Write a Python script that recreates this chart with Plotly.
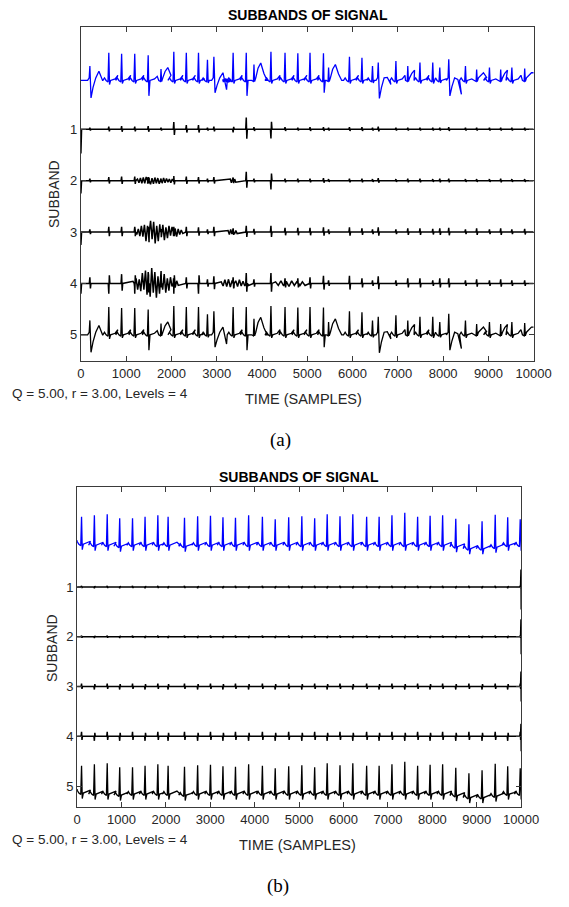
import numpy as np
import plotly.graph_objects as go

W, H = 569, 907

# ---------------- Panel (a) data ----------------
A_BEAT_POS = [198, 616, 899, 1189, 1486, 1769, 2052, 2328, 2597, 2795, 2937, 3362, 3652, 3822,
              4197, 4508, 4791, 5060, 5357, 5470, 5931, 6207, 6440, 6567, 6957, 7219, 7488,
              7771, 7926, 8124, 8493, 8740, 9023, 9271, 9518, 9801]
A_BEAT_R = [0.28, 0.54, 0.52, 0.52, 0.49, 0.22, 0.56, 0.54, 0.54, 0.40, 0.46, 0.54, 0.54, 0.31,
            0.56, 0.54, 0.53, 0.54, 0.53, 0.25, 0.46, 0.44, 0.28, 0.35, 0.38, 0.28, 0.35,
            0.35, 0.25, 0.41, 0.28, 0.21, 0.25, 0.21, 0.25, 0.23]
A_BEAT_S = [0.34, 0.08, 0.06, 0.06, 0.30, 0.04, 0.06, 0.06, 0.06, 0.05, 0.24, 0.06, 0.30, 0.04,
            0.06, 0.06, 0.06, 0.06, 0.24, 0.04, 0.06, 0.06, 0.05, 0.35, 0.06, 0.04, 0.06,
            0.06, 0.05, 0.30, 0.06, 0.04, 0.06, 0.04, 0.06, 0.04]
A_BEAT_T = [0.18, 0.10, 0.10, 0.10, 0.08, 0.25, 0.10, 0.10, 0.10, 0.05, 0.15, 0.10, 0.08, 0.34,
            0.10, 0.10, 0.10, 0.10, 0.08, 0.31, 0.10, 0.10, 0.06, 0.06, 0.10, 0.20, 0.10,
            0.10, 0.06, 0.02, 0.10, 0.15, 0.10, 0.20, 0.10, 0.15]
A_BEAT_KIND = ['V', 'N', 'N', 'N', 'N', 'H', 'N', 'N', 'N', 'N', 'V', 'N', 'N', 'H',
               'N', 'N', 'N', 'N', 'N', 'H', 'N', 'N', 'N', 'V', 'N', 'H', 'N',
               'N', 'N', 'V', 'N', 'H', 'N', 'H', 'N', 'H']
A_BEAT_TAIL = [0, 0, 0, 0, 0, 0, 0, 0, 0, 0, -0.18, 0, 0, 0,
               0, 0, 0, 0, 0, 0, 0, 0, 0, -0.08, 0, 0, 0,
               0, 0, -0.27, 0, 0, 0, 0, 0, 0]
A_SIG_BURST_X = [3130, 3320]
A_SIG_BURST = [0.02, -0.03, 0.03, -0.02, 0.04, -0.03, 0.03, -0.04, 0.02, -0.03, 0.03, -0.02]

A_SB1_AMP = [0.03, 0.05, 0.06, 0.05, 0.06, 0.03, 0.14, 0.08, 0.08, 0.03, 0.05, -0.06, 0.23, 0.04,
             -0.18, 0.04, 0.03, 0.04, 0.04, 0.03, 0.04, 0.04, 0.03, 0.05, 0.03, 0.03, 0.03,
             0.03, 0.03, 0.04, 0.03, 0.03, 0.03, 0.03, 0.03, 0.03]
A_SB2_AMP = [0.04, 0.07, 0.08, 0.08, 0.07, 0.04, 0.09, 0.08, 0.07, 0.04, 0.07, 0.06, 0.17, 0.04,
             -0.17, 0.04, 0.04, 0.04, 0.05, 0.03, 0.04, 0.04, 0.03, 0.05, 0.03, 0.04, 0.04,
             0.03, 0.04, 0.04, 0.03, 0.03, 0.03, 0.04, 0.03, 0.03]
A_SB3_AMP = [0.05, 0.10, 0.10, 0.10, 0.10, 0.06, 0.10, 0.10, 0.09, 0.05, 0.10, 0.07, 0.12, 0.06,
             0.12, 0.08, 0.08, 0.08, 0.09, 0.05, 0.09, 0.07, 0.05, 0.09, 0.05, 0.07, 0.07,
             0.06, 0.07, 0.08, 0.05, 0.07, 0.05, 0.07, 0.05, 0.06]
A_SB4_AMP = [0.12, -0.20, 0.18, -0.20, 0.22, 0.10, -0.20, 0.12, -0.20, 0.08, 0.14, 0.12, 0.20, 0.08,
             0.20, 0.10, 0.10, 0.12, 0.15, 0.06, 0.15, 0.10, 0.06, 0.14, 0.06, 0.10, 0.10,
             0.06, 0.10, 0.10, 0.06, 0.08, 0.06, 0.08, 0.06, 0.06]
A_SB_EDGE = [-0.47, -0.25, -0.25, -0.20]

A_SB2_BURST_X = [1250, 2050]
A_SB2_BURST = [0.03, -0.04, 0.05, -0.05, 0.06, -0.05, 0.07, -0.06, 0.06, -0.07, 0.05, -0.06,
               0.06, -0.05, 0.05, -0.06, 0.04, -0.05, 0.05, -0.04, 0.04, -0.03, 0.03, -0.04,
               0.03, -0.02]
A_SB2_BURST2_X = [3300, 3420]
A_SB2_BURST2 = [0.03, -0.04, 0.04, -0.03, 0.03, -0.03]
A_SB3_BURST_X = [1200, 2250]
A_SB3_BURST = [0.03, -0.05, 0.06, -0.08, 0.12, -0.09, 0.14, -0.18, 0.12, -0.20, 0.22, -0.14,
               0.20, -0.22, 0.12, -0.18, 0.15, -0.10, 0.14, -0.16, 0.09, -0.12, 0.12, -0.07,
               0.10, -0.08, 0.07, -0.09, 0.06, -0.05, 0.04, -0.03]
A_SB3_BURST2_X = [3250, 3450]
A_SB3_BURST2 = [0.03, -0.05, 0.05, -0.04, 0.05, -0.04, 0.03, -0.03]
A_SB4_BURST_X = [1150, 2150]
A_SB4_BURST = [0.04, -0.06, 0.10, -0.12, 0.08, -0.15, 0.20, -0.12, 0.25, -0.22, 0.16, -0.26,
               0.30, -0.18, 0.22, -0.28, 0.14, -0.20, 0.24, -0.12, 0.18, -0.18, 0.10, -0.14,
               0.12, -0.06, 0.10, -0.08, 0.05, -0.04]
A_SB4_BURST2_X = [3100, 3700]
A_SB4_BURST2 = [0.03, -0.05, 0.07, -0.06, 0.08, -0.07, 0.06, -0.08, 0.05, -0.06, 0.07, -0.05,
                0.04, -0.05, 0.03, -0.04]
A_SB4_BURST3_X = [4300, 4950]
A_SB4_BURST3 = [0.03, -0.04, 0.05, -0.05, 0.04, -0.06, 0.05, -0.04, 0.04, -0.05, 0.03, -0.04]
A_BASE = -0.05

# ---------------- Panel (b) data ----------------
B_BEAT_POS = [101, 390, 679, 960, 1249, 1531, 1819, 2050, 2419, 2715, 3004, 3285, 3567, 3863,
              4173, 4462, 4765, 5061, 5350, 5632, 5920, 6209, 6520, 6801, 7090, 7379, 7668,
              7949, 8231, 8527, 8823, 9119, 9415, 9696, 9978]
B_BEAT_R = [0.55, 0.60, 0.62, 0.56, 0.54, 0.57, 0.60, 0.57, 0.57, 0.58, 0.59, 0.56, 0.55, 0.60,
            0.57, 0.52, 0.56, 0.58, 0.54, 0.62, 0.58, 0.62, 0.57, 0.57, 0.60, 0.65, 0.57,
            0.59, 0.60, 0.56, 0.49, 0.55, 0.65, 0.56, 0.52]
B_BEAT_BASE = [0.02, 0, 0, -0.02, 0, 0, 0, 0, -0.02, 0, 0, 0, 0, 0,
               0, 0, 0, 0, 0, 0, 0, 0, 0, 0, 0, 0, 0,
               0, 0, -0.03, -0.07, -0.07, -0.04, 0, 0]
B_BEAT_S = 0.11
B_BEAT_T = 0.06
B_SB_AMP = [0.025, 0.025, 0.06, 0.09]
B_SB_EDGE_HI = [0.35, 0.35, 0.30, 0.25, 0.10]
B_SB_EDGE_LO = [-0.45, -0.35, -0.30, -0.30, -0.10]
B_BASE = -0.16

X_TICKS = [0, 1000, 2000, 3000, 4000, 5000, 6000, 7000, 8000, 9000, 10000]
X_TICK_TEXT = ['0', '1000', '2000', '3000', '4000', '5000', '6000', '7000', '8000', '9000', '10000']
BAND_LABELS = ['1', '2', '3', '4', '5']
TITLE = 'SUBBANDS OF SIGNAL'
Y_TITLE = 'SUBBAND'
X_TITLE = 'TIME (SAMPLES)'
PARAM_TEXT = 'Q = 5.00, r = 3.00, Levels = 4'


# ---------------- builders ----------------
def beat_shape(p, r, s, t, kind, tail):
    if kind == 'N':
        dx = [-130, -95, -60, -18, 0, 16, 40, 140, 200, 270]
        dy = [0, 0.05, 0, -0.03, r, -s, 0, 0.03, t, tail]
    elif kind == 'V':
        dx = [-50, -15, 0, 25, 70, 130, 200, 280]
        dy = [0, 0.05, r, -s, -s * 0.4, 0.05, t, tail]
    else:  # 'H'
        dx = [-50, -12, 0, 14, 40, 90, 150, 220, 290]
        dy = [0, -0.02, r, -0.02, 0.05, t * 0.7, t, t * 0.4, tail]
    return [p + d for d in dx], dy


def ecg(pos, rs, ss, ts, kinds, tails, bases, start_level=0.0):
    X, Y = [0], [start_level]
    n = len(pos)
    for i in range(n):
        xs, ys = beat_shape(pos[i], rs[i], ss[i], ts[i], kinds[i], tails[i])
        lo = pos[i - 1] + 45 if i > 0 else 5
        hi = pos[i + 1] - 55 if i < n - 1 else 10000
        for x, y in zip(xs, ys):
            if lo < x < hi or x == pos[i]:
                X.append(x)
                Y.append(y + bases[i])
    X.append(10000)
    Y.append(Y[-1])
    return X, Y


def band(pos, amps, bursts, width=12, shift=0.0):
    pts = []
    for p, a in zip(pos, amps):
        pts += [(p - width, 0), (p, a), (p + width, -a * 0.8), (p + 2 * width, 0)]
    for (x0, x1), vals in bursts:
        xs = np.linspace(x0, x1, len(vals))
        pts += list(zip(xs, vals))
    pts.sort(key=lambda q: q[0])
    X = [q[0] for q in pts]
    Y = [q[1] + shift for q in pts]
    return X, Y


fig = go.Figure()
BLUE = '#0000FF'
BLACK = '#000000'
LW = 1.3

# ---- panel (a) ----
ax, ay = ecg(A_BEAT_POS, A_BEAT_R, A_BEAT_S, A_BEAT_T, A_BEAT_KIND, A_BEAT_TAIL,
             [0] * len(A_BEAT_POS))
fig.add_trace(go.Scatter(x=ax, y=[v + A_BASE for v in ay], mode='lines',
                         line=dict(color=BLUE, width=LW), xaxis='x', yaxis='y'))
bx = np.linspace(A_SIG_BURST_X[0], A_SIG_BURST_X[1], len(A_SIG_BURST))
fig.add_trace(go.Scatter(x=bx, y=[v + A_BASE for v in A_SIG_BURST], mode='lines',
                         line=dict(color=BLUE, width=LW), xaxis='x', yaxis='y'))

a_amps = [A_SB1_AMP, A_SB2_AMP, A_SB3_AMP, A_SB4_AMP]
a_bursts = [
    [],
    [(A_SB2_BURST_X, A_SB2_BURST), (A_SB2_BURST2_X, A_SB2_BURST2)],
    [(A_SB3_BURST_X, A_SB3_BURST), (A_SB3_BURST2_X, A_SB3_BURST2)],
    [(A_SB4_BURST_X, A_SB4_BURST), (A_SB4_BURST2_X, A_SB4_BURST2), (A_SB4_BURST3_X, A_SB4_BURST3)],
]
for k in range(4):
    X, Y = band(A_BEAT_POS, a_amps[k], a_bursts[k])
    X = [0, 15] + X + [10000]
    Y = [A_SB_EDGE[k], 0] + Y + [0]
    fig.add_trace(go.Scatter(x=X, y=[v - (k + 1) for v in Y], mode='lines',
                             line=dict(color=BLACK, width=1.5), xaxis='x', yaxis='y'))
fig.add_trace(go.Scatter(x=ax, y=[v - 5 for v in ay], mode='lines',
                         line=dict(color=BLACK, width=LW), xaxis='x', yaxis='y'))

# ---- panel (b) ----
nb = len(B_BEAT_POS)
bxs, bys = ecg(B_BEAT_POS, B_BEAT_R, [B_BEAT_S] * nb, [B_BEAT_T] * nb, ['N'] * nb,
               [0] * nb, B_BEAT_BASE, start_level=0.1)
fig.add_trace(go.Scatter(x=bxs, y=[v + B_BASE for v in bys], mode='lines',
                         line=dict(color=BLUE, width=LW), xaxis='x2', yaxis='y2'))
for k in range(4):
    amps = [B_SB_AMP[k] * (1 if i % 2 == 0 else -1) for i in range(nb)]
    X, Y = band(B_BEAT_POS, amps, [], width=10)
    X = [0] + X + [9985, 9995, 10000]
    Y = [0] + Y + [0, B_SB_EDGE_HI[k], B_SB_EDGE_LO[k]]
    fig.add_trace(go.Scatter(x=X, y=[v - (k + 1) for v in Y], mode='lines',
                             line=dict(color=BLACK, width=1.5), xaxis='x2', yaxis='y2'))
fig.add_trace(go.Scatter(x=bxs, y=[v + B_BASE - 5 for v in bys], mode='lines',
                         line=dict(color=BLACK, width=LW), xaxis='x2', yaxis='y2'))


def px(x):
    return x / W


def py(y):
    return 1 - y / H


FRAME = '#3a3a3a'
TXT = '#262626'
FONT = 'Liberation Sans, Arial, sans-serif'


def xaxis_cfg(x0, x1, anchor):
    return dict(domain=[px(x0), px(x1)], range=[0, 10000], tickvals=X_TICKS,
                ticktext=X_TICK_TEXT,
                ticks='inside', ticklen=5, tickcolor=FRAME, showline=True, linecolor=FRAME,
                linewidth=1, mirror='ticks', showgrid=False, zeroline=False, anchor=anchor,
                tickfont=dict(family=FONT, size=13, color=TXT))


def yaxis_cfg(y_top, y_bot, rng, anchor):
    return dict(domain=[py(y_bot), py(y_top)], range=rng, tickvals=[-1, -2, -3, -4, -5],
                ticktext=BAND_LABELS, ticks='inside', ticklen=5, tickcolor=FRAME,
                showline=True, linecolor=FRAME, linewidth=1, mirror='ticks', showgrid=False,
                zeroline=False, anchor=anchor,
                tickfont=dict(family=FONT, size=13, color=TXT))


fig.update_layout(
    width=W, height=H, margin=dict(l=0, r=0, t=0, b=0),
    paper_bgcolor='white', plot_bgcolor='white', showlegend=False,
    xaxis=xaxis_cfg(80, 551, 'y'),
    yaxis=yaxis_cfg(27, 361, [-5.51, 0.99], 'x'),
    xaxis2=xaxis_cfg(76, 538, 'y2'),
    yaxis2=yaxis_cfg(487, 807, [-5.42, 1.01], 'x2'),
)


def ann(text, x, y, size, bold=False, angle=0, xanchor='center', family=FONT, color=TXT):
    t = '<b>%s</b>' % text if bold else text
    fig.add_annotation(text=t, x=px(x), y=py(y), xref='paper', yref='paper',
                       xanchor=xanchor, yanchor='middle', showarrow=False,
                       textangle=angle, font=dict(family=family, size=size, color=color))


SERIF = 'Liberation Serif, Times New Roman, serif'
ann(TITLE, 316, 15, 14, bold=True, color='#000000')
ann(Y_TITLE, 52, 194, 14, angle=-90)
ann(X_TITLE, 312, 399, 14.5)
ann(PARAM_TEXT, 6, 393, 13.5, xanchor='left')
ann('(a)', 288, 440, 19, family=SERIF, color='#000000')

ann(TITLE, 307, 477, 14, bold=True, color='#000000')
ann(Y_TITLE, 50, 648, 14, angle=-90)
ann(X_TITLE, 305, 845, 14.5)
ann(PARAM_TEXT, 6, 839, 13.5, xanchor='left')
ann('(b)', 285, 886, 19, family=SERIF, color='#000000')

fig.write_html('out.html', config={'displayModeBar': False},
               post_script="document.body.style.margin='0px';")
